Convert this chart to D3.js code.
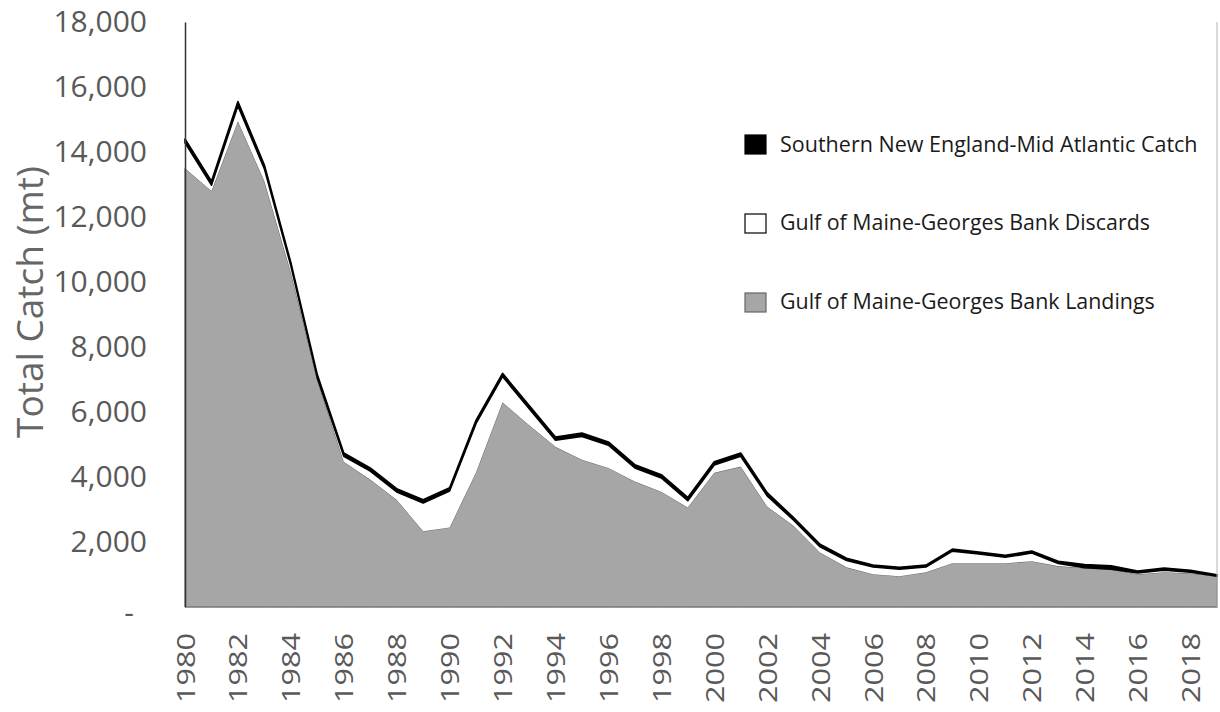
<!DOCTYPE html>
<html>
<head>
<meta charset="utf-8">
<script src="https://cdn.jsdelivr.net/npm/d3@7"></script>
<style>
  html, body { margin: 0; padding: 0; background: #fff; }
  svg { display: block; }
  .tick-y text { font-family: "Open Sans", sans-serif; font-size: 30px; fill: #595959; }
  .tick-x text { font-family: "Open Sans", sans-serif; font-size: 25px; fill: #595959; }
  .y-title { font-family: "Open Sans", sans-serif; font-size: 32px; fill: #666; }
  .legend text { font-family: "Liberation Sans Narrow", "Open Sans", sans-serif; font-size: 26px; fill: #1a1a1a; }
</style>
</head>
<body>
<div id="chart"></div>
<script>
// Annual catch (mt)
const years = d3.range(1980, 2020);
const landings = [
  13500, 12800, 14950, 13100, 10300, 7000, 4470, 3920, 3300, 2330,
  2450, 4150, 6300, 5600, 4930, 4530, 4280, 3860, 3550, 3060,
  4130, 4320, 3090, 2500, 1680, 1220, 1010, 950, 1070, 1350,
  1350, 1350, 1410, 1260, 1200, 1160, 1010, 1070, 1040, 950
];
const discards = [
  780, 180, 470, 380, 200, 50, 170, 260, 240, 870,
  1120, 1500, 790, 510, 200, 720, 700, 420, 420, 210,
  240, 320, 330, 170, 170, 210, 220, 210, 160, 370,
  280, 180, 250, 80, 10, 0, 40, 60, 30, 0
];
const sneCatch = [
  120, 120, 130, 120, 100, 100, 100, 100, 100, 100,
  100, 100, 100, 100, 100, 100, 100, 100, 100, 100,
  100, 100, 100, 80, 80, 70, 60, 60, 60, 60,
  60, 60, 60, 70, 100, 110, 60, 70, 60, 40
];
const yTicks = [0, 2000, 4000, 6000, 8000, 10000, 12000, 14000, 16000, 18000];
const xTicks = d3.range(1980, 2019, 2);

const seriesInfo = [
  { key: "sne", name: "Southern New England-Mid Atlantic Catch", fill: "#000", stroke: "#000" },
  { key: "discards", name: "Gulf of Maine-Georges Bank Discards", fill: "#fff", stroke: "#000" },
  { key: "landings", name: "Gulf of Maine-Georges Bank Landings", fill: "#a6a6a6", stroke: "#666" }
];

const W = 1220, H = 712;
const M = { top: 22, right: 3, bottom: 105, left: 185 };

// scale a text's font so its natural width hits the target width
function fitWidth(node, target) {
  const fs = parseFloat(getComputedStyle(node).fontSize);
  const w = node.getComputedTextLength();
  if (w > 0) node.style.fontSize = (fs * target / w) + "px";
}

const rows = years.map((yr, i) => ({
  year: yr, landings: landings[i], discards: discards[i], sne: sneCatch[i]
}));

const svg = d3.select("#chart").append("svg")
  .attr("width", W).attr("height", H);

const x = d3.scaleLinear().domain([1980, 2019]).range([M.left, W - M.right]);
const y = d3.scaleLinear().domain([0, 18000]).range([H - M.bottom, M.top]);

const stacked = d3.stack().keys(["landings", "discards", "sne"])(rows);
const area = d3.area()
  .x(d => x(d.data.year))
  .y0(d => y(d[0]))
  .y1(d => y(d[1]));

const look = {
  landings: { fill: "#a6a6a6", stroke: "#5f5f5f", w: 1 },
  discards: { fill: "#fff", stroke: "none", w: 0 },
  sne: { fill: "#000", stroke: "#000", w: 1.6 }
};
svg.append("g").selectAll("path").data(stacked).enter().append("path")
  .attr("d", area)
  .attr("fill", d => look[d.key].fill)
  .attr("stroke", d => look[d.key].stroke)
  .attr("stroke-width", d => look[d.key].w)
  .attr("stroke-linejoin", "round");

// right edge of plot
svg.append("line")
  .attr("x1", x(2019)).attr("x2", x(2019))
  .attr("y1", y(18000)).attr("y2", y(0))
  .attr("stroke", "#b5b5b5").attr("stroke-width", 1);

// y axis
const yAxis = svg.append("g").attr("class", "tick-y")
  .attr("transform", `translate(${M.left},0)`)
  .call(d3.axisLeft(y).tickValues(yTicks).tickSize(0).tickPadding(38)
    .tickFormat(d => d === 0 ? "-" : d3.format(",")(d)));
yAxis.select(".domain").attr("stroke", "#333").attr("stroke-width", 1.5);
yAxis.selectAll(".tick text").filter(d => d === 0)
  .attr("dx", -13).attr("dy", "0.5em");

// x axis
const xAxis = svg.append("g").attr("class", "tick-x")
  .attr("transform", `translate(0,${y(0)})`)
  .call(d3.axisBottom(x).tickValues(xTicks).tickSize(0).tickFormat(d3.format("d")));
xAxis.select(".domain").attr("stroke", "#999").attr("stroke-width", 1);
xAxis.selectAll(".tick text")
  .attr("transform", "rotate(-90)")
  .attr("x", -96).attr("y", 0).attr("dy", "0.36em")
  .attr("text-anchor", "start")
  .attr("textLength", 70).attr("lengthAdjust", "spacingAndGlyphs");

// y title
svg.append("text").attr("class", "y-title")
  .attr("transform", `translate(43,302) rotate(-90)`)
  .attr("text-anchor", "middle")
  .text("Total Catch (mt)")
  .each(function () { fitWidth(this, 272); });

// legend
const legendW = [418, 370, 375];
const legendY = [144, 223, 302];
const legend = svg.append("g").attr("class", "legend");
seriesInfo.forEach((s, i) => {
  legend.append("rect")
    .attr("x", 745).attr("y", legendY[i] - 9).attr("width", 21).attr("height", 19)
    .attr("fill", s.fill).attr("stroke", s.stroke).attr("stroke-width", 1.2);
  legend.append("text")
    .attr("x", 780).attr("y", legendY[i]).attr("dy", "0.35em")
    .text(s.name)
    .each(function () { fitWidth(this, legendW[i]); });
});
</script>
</body>
</html>
